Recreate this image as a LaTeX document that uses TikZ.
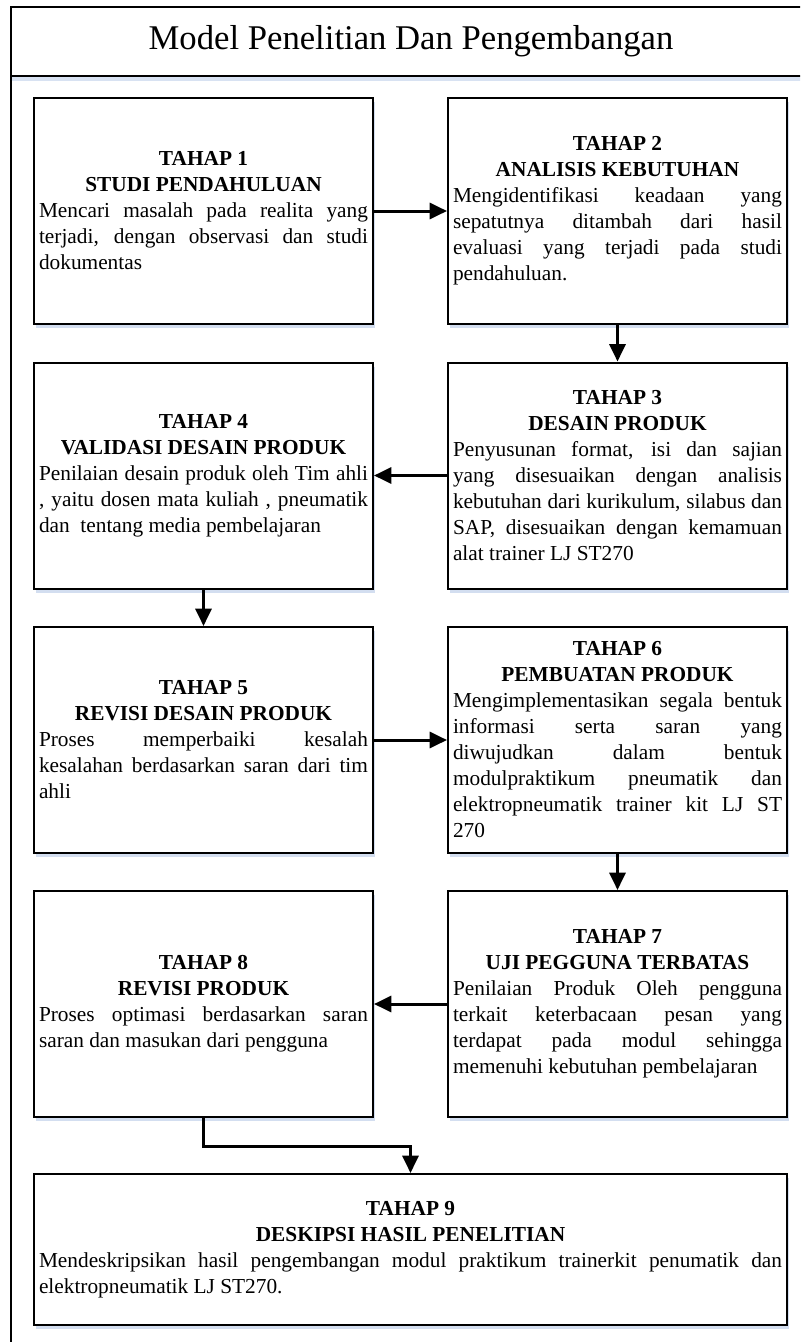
\documentclass[tikz,border=0pt]{standalone}
\usepackage{fontspec}
\setmainfont{Liberation Serif}
\usetikzlibrary{arrows.meta,shadows}
\definecolor{shadowc}{RGB}{200,214,236}
\hyphenpenalty=10000
\exhyphenpenalty=10000
\tolerance=10000
\newcommand{\stagetext}[3]{{\centering\bfseries #1\\#2\par}#3}
\tikzset{
  stagebox/.style={draw, line width=1.5pt, fill=white,
    minimum width=254.25pt, minimum height=169.5pt,
    text width=246.75pt, inner xsep=3.75pt, inner ysep=0pt, align=justify,
    font=\fontsize{16}{19.5}\selectfont,
    drop shadow={shadow xshift=1.5pt, shadow yshift=-3pt, fill=shadowc, opacity=0.8}},
  widebox/.style={stagebox, minimum width=564.75pt, text width=557.25pt, minimum height=113.25pt},
  flow/.style={line width=2.25pt, -{Triangle[length=13pt,width=12pt]}},
  frameline/.style={line width=1.5pt},
}
\begin{document}
\begin{tikzpicture}[x=0.75pt,y=-0.75pt]
\useasboundingbox (0,0) rectangle (800,1342);
\clip (0,0) rectangle (800,1342);
% outer frame and title band
\fill[shadowc, opacity=0.7] (12,76) rectangle (811,81);
\draw[frameline] (11,1360) -- (11,7) -- (811,7) -- (811,1360);
\draw[line width=1.8pt] (11,76) -- (811,76);
\node[font=\rmfamily\fontsize{26}{30}\selectfont] (title) at (411,41.5) {Model Penelitian Dan Pengembangan};

\node[stagebox] (b1) at (203.5,211) {\stagetext{TAHAP 1}{STUDI PENDAHULUAN}{Mencari masalah pada realita yang\linebreak terjadi, dengan observasi dan studi\linebreak dokumentas}};
\node[stagebox] (b2) at (617.5,211) {\stagetext{TAHAP 2}{ANALISIS KEBUTUHAN}{Mengidentifikasi keadaan yang\linebreak sepatutnya ditambah dari hasil\linebreak evaluasi yang terjadi pada studi\linebreak pendahuluan.}};
\node[stagebox] (b3) at (617.5,475.5) {\stagetext{TAHAP 3}{DESAIN PRODUK}{Penyusunan format, isi dan sajian\linebreak yang disesuaikan dengan analisis\linebreak kebutuhan dari kurikulum, silabus dan\linebreak SAP, disesuaikan dengan kemamuan\linebreak alat trainer LJ ST270}};
\node[stagebox] (b4) at (203.5,475.5) {\stagetext{TAHAP 4}{VALIDASI DESAIN PRODUK}{Penilaian desain produk oleh Tim ahli\linebreak , yaitu dosen mata kuliah , pneumatik\linebreak dan\ \ tentang media pembelajaran}};
\node[stagebox] (b5) at (203.5,740) {\stagetext{TAHAP 5}{REVISI DESAIN PRODUK}{Proses memperbaiki kesalah\linebreak kesalahan berdasarkan saran dari tim\linebreak ahli}};
\node[stagebox] (b6) at (617.5,740) {\stagetext{TAHAP 6}{PEMBUATAN PRODUK}{Mengimplementasikan segala bentuk\linebreak informasi serta saran yang\linebreak diwujudkan dalam bentuk\linebreak modulpraktikum pneumatik dan\linebreak elektropneumatik trainer kit LJ ST\linebreak 270}};
\node[stagebox] (b7) at (617.5,1004) {\stagetext{TAHAP 7}{UJI PEGGUNA TERBATAS}{Penilaian Produk Oleh pengguna\linebreak terkait keterbacaan pesan yang\linebreak terdapat pada modul sehingga\linebreak memenuhi kebutuhan pembelajaran}};
\node[stagebox] (b8) at (203.5,1004) {\stagetext{TAHAP 8}{REVISI PRODUK}{Proses optimasi berdasarkan saran\linebreak saran dan masukan dari pengguna}};
\node[widebox] (b9) at (410.5,1249.5) {\stagetext{TAHAP 9}{DESKIPSI HASIL PENELITIAN}{Mendeskripsikan hasil pengembangan modul praktikum trainerkit penumatik dan\linebreak elektropneumatik LJ ST270.}};

\coordinate (bend) at (203.5,1146);
\draw[flow] (b1) -- (b2);
\draw[flow] (b2) -- (b3);
\draw[flow] (b3) -- (b4);
\draw[flow] (b4) -- (b5);
\draw[flow] (b5) -- (b6);
\draw[flow] (b6) -- (b7);
\draw[flow] (b7) -- (b8);
\draw[flow] (b8.south) -- (bend) -| (b9.north);
\end{tikzpicture}
\end{document}
